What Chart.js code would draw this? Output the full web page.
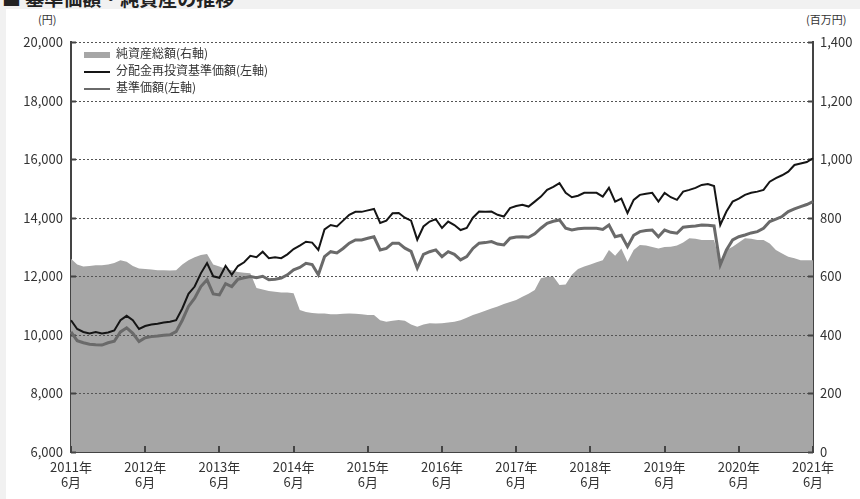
<!DOCTYPE html>
<html lang="ja">
<head>
<meta charset="utf-8">
<title>基準価額・純資産の推移</title>
<script src="https://cdn.jsdelivr.net/npm/chart.js@4.4.0/dist/chart.umd.min.js"></script>
<style>
  html, body { margin: 0; padding: 0; background: #f1f1f1; }
  body { width: 860px; height: 499px; position: relative; overflow: hidden; font-family: 'Noto Sans CJK JP', sans-serif; color: #333; }
  .panel { position: absolute; left: 6px; top: 9px; right: 0; bottom: 0; background: #fff; }
  .title { position: absolute; left: 2px; top: -16px; font-size: 19px; font-weight: bold; color: #222; white-space: nowrap; }
  .unit { position: absolute; top: 11px; font-size: 11px; color: #333; }
  .wrap { position: absolute; left: 0; top: 0; width: 860px; height: 499px; }
  .legend { position: absolute; left: 84px; top: 44px; font-size: 12px; color: #333; }
  .legend div { height: 17px; line-height: 17px; white-space: nowrap; }
  .legend i { display: inline-block; width: 26px; vertical-align: middle; margin-right: 6px; }
</style>
</head>
<body>
<div class="panel"></div>
<div class="title">■ 基準価額・純資産の推移</div>
<div class="unit" style="left:38px">(円)</div>
<div class="unit" style="left:806px">(百万円)</div>
<div class="wrap"><canvas id="myChart"></canvas></div>
<div class="legend" id="legend"></div>
<script>
// monthly points, 2011/6 - 2021/6
const months = [];
for (let y = 2011; y <= 2021; y++) {
  for (let m = 1; m <= 12; m++) {
    if ((y === 2011 && m < 6) || (y === 2021 && m > 6)) continue;
    months.push(y + '-' + m);
  }
}
const tickYears = ['2011', '2012', '2013', '2014', '2015', '2016', '2017', '2018', '2019', '2020', '2021'];
const seriesNames = ['純資産総額(右軸)', '分配金再投資基準価額(左軸)', '基準価額(左軸)'];

// 分配金再投資基準価額 (円)
const reinvestNav = [
  10500, 10200, 10100, 10050, 10100, 10050, 10080, 10150, 10500, 10650, 10500, 10200,
  10300, 10350, 10380, 10420, 10450, 10500, 10900, 11400, 11650, 12100, 12450, 12000,
  11950, 12350, 12050, 12350, 12480, 12700, 12650, 12840, 12620, 12650, 12620, 12750,
  12930, 13050, 13180, 13150, 12900, 13600, 13750, 13700, 13900, 14100, 14200, 14200,
  14250, 14300, 13820, 13900, 14150, 14160, 14000, 13900, 13250, 13700, 13870, 13950,
  13650, 13870, 13750, 13580, 13650, 14000, 14210, 14200, 14210, 14100, 14040, 14330,
  14400, 14440, 14380, 14550, 14720, 14950, 15050, 15180, 14850, 14700, 14750, 14850,
  14850, 14850, 14720, 15020, 14550, 14650, 14160, 14610, 14780, 14820, 14850, 14550,
  14850, 14700, 14610, 14890, 14950, 15020, 15120, 15150, 15080, 13750, 14210, 14550,
  14650, 14780, 14850, 14890, 14950, 15230, 15350, 15450, 15570, 15800, 15850, 15900,
  16030
];
// 基準価額 (円)
const nav = [
  10100, 9800, 9730, 9680, 9660, 9650, 9730, 9780, 10100, 10240, 10050, 9770,
  9900, 9940, 9960, 9990, 10000, 10110, 10500, 10970, 11250, 11650, 11880, 11400,
  11365, 11750, 11650, 11900, 11945, 11990, 11950, 12000, 11880, 11900, 11940, 12050,
  12220, 12300, 12445, 12400, 12050, 12670, 12840, 12800, 12950, 13130, 13240, 13240,
  13300, 13350, 12900, 12950, 13130, 13130, 12960, 12850, 12280, 12750, 12840, 12900,
  12670, 12840, 12750, 12560, 12670, 12950, 13130, 13150, 13185, 13100, 13070, 13300,
  13340, 13350, 13330, 13450, 13640, 13810, 13880, 13925, 13640, 13580, 13620, 13640,
  13640, 13640, 13600, 13750, 13350, 13400, 13010, 13400, 13525, 13560, 13580, 13350,
  13580, 13500, 13470, 13675, 13700, 13720, 13750, 13740, 13720, 12390, 12900, 13240,
  13350, 13410, 13480, 13525, 13640, 13870, 13950, 14040, 14210, 14300, 14380, 14450,
  14550
];
// 純資産総額 (百万円)
const netAssets = [
  660, 640, 633, 635, 638, 638, 640, 645, 655, 650, 635, 627,
  625, 623, 621, 621, 620, 621, 640, 655, 665, 673, 676, 640,
  633, 625, 621, 615, 612, 610, 560, 555, 550, 547, 545, 545,
  542, 485, 478, 475, 473, 473, 470, 470, 472, 473, 472, 470,
  468, 468, 450, 445, 448, 451, 448, 435, 428, 435, 440, 439,
  440, 442, 445, 450, 458, 468, 475, 482, 490, 497, 505, 512,
  519, 530, 540, 553, 593, 598, 599, 570, 572, 605, 625, 633,
  640, 648, 655, 690, 670, 695, 650, 690, 707, 705, 700, 695,
  700, 701, 705, 715, 730, 728, 724, 724, 724, 644, 690, 701,
  715, 730, 728, 724, 724, 712, 690, 678, 667, 662, 655, 655,
  655
];

const areaColor = '#a6a6a6';
const blackColor = '#151515';
const grayColor = '#6a6a6a';
const axisColor = '#444';
const tickFont = { family: "'Noto Sans CJK JP', sans-serif", size: 13 };

// dotted grid over the area, short inner tick marks on axes
const axisMarks = {
  id: 'axisMarks',
  afterDatasetDraw(chart, args) {
    if (args.index !== 0) return;
    const { ctx, chartArea: a, scales: { x, y } } = chart;
    const seg = (x1, y1, x2, y2) => { ctx.beginPath(); ctx.moveTo(x1, y1); ctx.lineTo(x2, y2); ctx.stroke(); };
    ctx.save();
    ctx.strokeStyle = '#555';
    ctx.lineWidth = 1;
    ctx.setLineDash([2, 2]);
    y.ticks.forEach(t => {
      if (t.value === y.min) return;
      const py = Math.round(y.getPixelForValue(t.value)) + 0.5;
      seg(a.left, py, a.right, py);
    });
    ctx.setLineDash([]);
    ctx.strokeStyle = axisColor;
    ctx.lineWidth = 2;
    y.ticks.forEach(t => {
      const py = Math.round(y.getPixelForValue(t.value)) + 0.5;
      seg(a.left, py, a.left + 5, py);
      seg(a.right - 5, py, a.right, py);
    });
    x.ticks.forEach((t, i) => {
      if (i % 12 !== 0) return;
      const px = Math.round(x.getPixelForValue(i));
      seg(px, a.bottom, px, a.bottom - 6);
    });
    ctx.restore();
  }
};

const ctx = document.querySelector('#myChart').getContext('2d');
const myChart = new Chart(ctx, {
  type: 'line',
  data: {
    labels: months,
    datasets: [
      {
        label: seriesNames[0],
        data: netAssets,
        yAxisID: 'y2',
        fill: 'origin',
        backgroundColor: areaColor,
        borderWidth: 0,
        pointRadius: 0,
        order: 2,
      },
      {
        label: seriesNames[1],
        data: reinvestNav,
        yAxisID: 'y',
        fill: false,
        borderColor: blackColor,
        borderWidth: 2,
        pointRadius: 0,
        order: 0,
      },
      {
        label: seriesNames[2],
        data: nav,
        yAxisID: 'y',
        fill: false,
        borderColor: grayColor,
        borderWidth: 3,
        pointRadius: 0,
        order: 1,
      },
    ],
  },
  options: {
    responsive: true,
    maintainAspectRatio: false,
    devicePixelRatio: 1,
    animation: false,
    layout: { padding: { top: 42, left: 0, right: 0, bottom: 0 } },
    plugins: {
      legend: { display: false },
      tooltip: { enabled: false },
    },
    scales: {
      x: {
        type: 'category',
        offset: false,
        grid: { display: false, drawTicks: false },
        border: { display: true, color: axisColor, width: 2 },
        ticks: {
          autoSkip: false,
          maxRotation: 0,
          padding: 8,
          color: '#333',
          font: { ...tickFont, lineHeight: 1.15 },
          callback: (v, i) => (i % 12 === 0 ? [tickYears[i / 12] + '年', '6月'] : ''),
        },
        afterFit: s => { s.height = 47; },
      },
      y: {
        position: 'left',
        min: 6000,
        max: 20000,
        grid: { display: false, drawTicks: false },
        border: { display: true, color: axisColor, width: 2 },
        ticks: {
          stepSize: 2000,
          padding: 8,
          color: '#333',
          font: tickFont,
          callback: v => v.toLocaleString('en-US'),
        },
        afterFit: s => { s.width = 71; },
      },
      y2: {
        position: 'right',
        min: 0,
        max: 1400,
        grid: { display: false, drawTicks: false },
        border: { display: true, color: axisColor, width: 2 },
        ticks: {
          stepSize: 200,
          padding: 7,
          color: '#333',
          font: tickFont,
          callback: v => v.toLocaleString('en-US'),
        },
        afterFit: s => { s.width = 47; },
      },
    },
  },
  plugins: [axisMarks],
});

// legend drawn as html over the plot
const legendStyles = [
  'height:6px;background:' + areaColor,
  'height:2px;background:' + blackColor,
  'height:2px;background:' + grayColor,
];
document.querySelector('#legend').innerHTML = seriesNames
  .map((name, i) => '<div><i style="' + legendStyles[i] + '"></i>' + name + '</div>')
  .join('');
</script>
</body>
</html>
